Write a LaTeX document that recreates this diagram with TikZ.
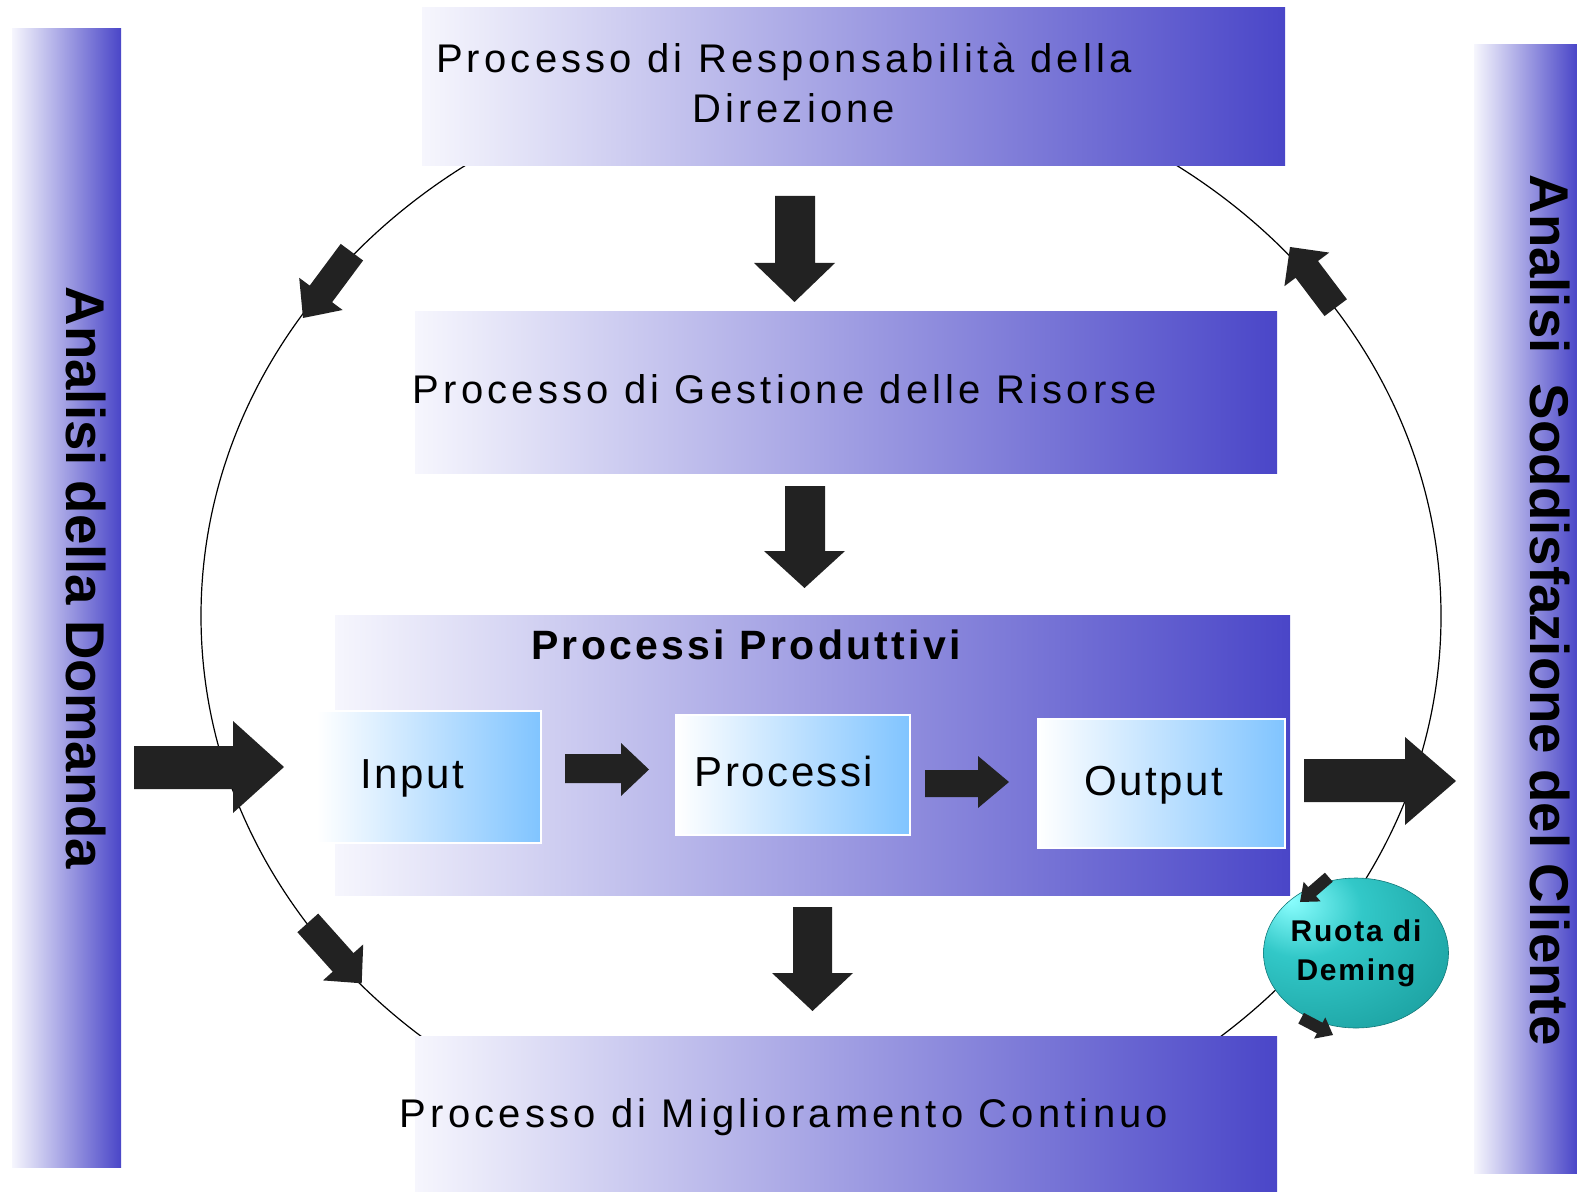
\documentclass[tikz,border=0pt]{standalone}
\usepackage{fontspec}
\setmainfont{Liberation Sans}
\newfontfamily\spacedA[LetterSpace=10.5]{Liberation Sans}
\newfontfamily\spacedB[LetterSpace=6]{Liberation Sans}
\newfontfamily\spacedC[LetterSpace=8]{Liberation Sans}
\usetikzlibrary{shapes.geometric}
\definecolor{boxblue}{RGB}{74,70,200}
\definecolor{boxpale}{RGB}{246,246,253}
\definecolor{inblue}{RGB}{128,196,255}
\definecolor{arrowgray}{RGB}{34,34,34}
\definecolor{demA}{RGB}{140,255,255}
\definecolor{demB}{RGB}{50,200,200}
\definecolor{demC}{RGB}{22,150,150}
\pgfdeclareradialshading{demingshade}{\pgfpoint{-18bp}{18bp}}{color(0bp)=(demA); color(16bp)=(demB); color(48bp)=(demC); color(80bp)=(demC)}
\tikzset{
  gradbox/.style={rectangle, draw=none, left color=boxpale, right color=boxblue, inner sep=0pt, outer sep=0pt},
  stepbox/.style={rectangle, draw=white, line width=1pt, left color=white, right color=inblue, inner sep=0pt, outer sep=0pt},
  blockarrow/.style={fill=arrowgray, draw=none},
  arcline/.style={draw=black, line width=0.6pt},
  proctext/.style={font=\spacedA\fontsize{20}{25}\selectfont, inner sep=0pt, anchor=base},
  titletext/.style={font=\spacedC\bfseries\fontsize{20.5}{25}\selectfont, inner sep=0pt, anchor=base},
  intext/.style={font=\spacedB\fontsize{21}{25}\selectfont, inner sep=0pt, anchor=base},
  sidetext/.style={font=\bfseries\fontsize{27.3}{30}\selectfont, inner sep=0pt, anchor=center, rotate=-90},
  demingball/.style={ellipse, draw=demC!80!black, line width=0.3pt, minimum width=87pt, minimum height=75pt, inner sep=0pt, shading=demingshade, align=center, font=\spacedB\bfseries\fontsize{15}{19.5}\selectfont}
}
\begin{document}
\begin{tikzpicture}[x=0.5pt,y=-0.5pt]
\useasboundingbox (0,0) rectangle (1577,1192);
% side bars
\node[gradbox, minimum width=54.5pt, minimum height=569pt] (leftbar) at (66.5,598) {};
\node[gradbox, minimum width=51.5pt, minimum height=564pt] (rightbar) at (1525.5,609) {};
% cycle line
\coordinate (cyc) at (821,616);
\draw[arcline] (cyc) ellipse [x radius=310pt, y radius=275pt];
% main boxes
\node[gradbox, minimum width=431.5pt, minimum height=79pt] (resp) at (853.5,87) {};
\node[gradbox, minimum width=431pt, minimum height=80.5pt] (risorse) at (846,392.5) {};
\node[gradbox, minimum width=477.5pt, minimum height=140pt] (produttivi) at (812.5,755) {};
\node[gradbox, minimum width=431pt, minimum height=78pt] (miglior) at (846,1114) {};
% inner boxes
\node[stepbox, minimum width=112pt, minimum height=66pt] (input) at (429,777) {};
\node[stepbox, minimum width=117pt, minimum height=60pt] (processi) at (793,775) {};
\node[stepbox, minimum width=123.5pt, minimum height=64.5pt] (output) at (1161.5,783.5) {};
% texts
\node[proctext, anchor=center, align=center] (t-resp) at (784,82.5) {Processo di Responsabilità della\\\hspace*{10pt}Direzione};
\node[proctext] (t-ris) at (785,403) {Processo di Gestione delle Risorse};
\node[proctext] (t-mig) at (784,1127) {Processo di Miglioramento Continuo};
\node[titletext] (t-prod) at (746,659) {Processi Produttivi};
\node[intext] (t-in) at (412,788) {Input};
\node[intext] (t-pr) at (784,786) {Processi};
\node[intext] (t-out) at (1154,795) {Output};
\node[sidetext] (t-dom) at (86,578) {Analisi della Domanda};
\node[sidetext] (t-cli) at (1550,610) {Analisi\ \ Soddisfazione del Cliente};
% big down arrows
\fill[blockarrow] (775,196) -- (815,196) -- (815,263) -- (835,263) -- (794.5,302) -- (754,263) -- (775,263) -- cycle;
\fill[blockarrow] (785,486) -- (825,486) -- (825,551) -- (845,551) -- (804.5,588) -- (764,551) -- (785,551) -- cycle;
\fill[blockarrow] (793,907) -- (832,907) -- (832,973) -- (853,973) -- (812.5,1011) -- (772,973) -- (793,973) -- cycle;
% big horizontal arrows
\fill[blockarrow] (134,746) -- (233,746) -- (233,721) -- (284,767) -- (233,813) -- (233,789) -- (134,789) -- cycle;
\fill[blockarrow] (1304,759) -- (1405,759) -- (1405,737) -- (1456,781) -- (1405,825) -- (1405,802) -- (1304,802) -- cycle;
% small arrows between inner boxes
\fill[blockarrow] (565,754) -- (621,754) -- (621,743) -- (649,769.5) -- (621,796) -- (621,783) -- (565,783) -- cycle;
\fill[blockarrow] (925,770) -- (978,770) -- (978,756) -- (1009,782) -- (978,808) -- (978,797) -- (925,797) -- cycle;
% arrows on the cycle
\fill[blockarrow] (363.1,260.5) -- (332.1,302.2) -- (342.6,310.0) -- (303,318) -- (299.2,277.8) -- (309.7,285.6) -- (340.7,243.9) -- cycle;
\fill[blockarrow] (1346.9,299.3) -- (1318.0,261.0) -- (1329.2,252.6) -- (1290,247) -- (1284.4,286.2) -- (1295.6,277.8) -- (1324.5,316.1) -- cycle;
\fill[blockarrow] (297.4,932.2) -- (332.7,971.7) -- (323.0,980.4) -- (361.7,983.3) -- (363.2,944.4) -- (353.5,953.1) -- (318.2,913.6) -- cycle;
% Deming wheel
\node[demingball] (deming) at (1356,953) {Ruota di\\Deming};
\fill[blockarrow] (1332.7,881.7) -- (1316.0,896.1) -- (1320.6,901.4) -- (1300,902) -- (1303.6,881.8) -- (1308.2,887.1) -- (1324.9,872.7) -- cycle;
\fill[blockarrow] (1298.3,1023.5) -- (1316.9,1033.3) -- (1314.1,1038.6) -- (1333,1035) -- (1325.3,1017.4) -- (1322.5,1022.7) -- (1303.9,1012.9) -- cycle;
\end{tikzpicture}
\end{document}
